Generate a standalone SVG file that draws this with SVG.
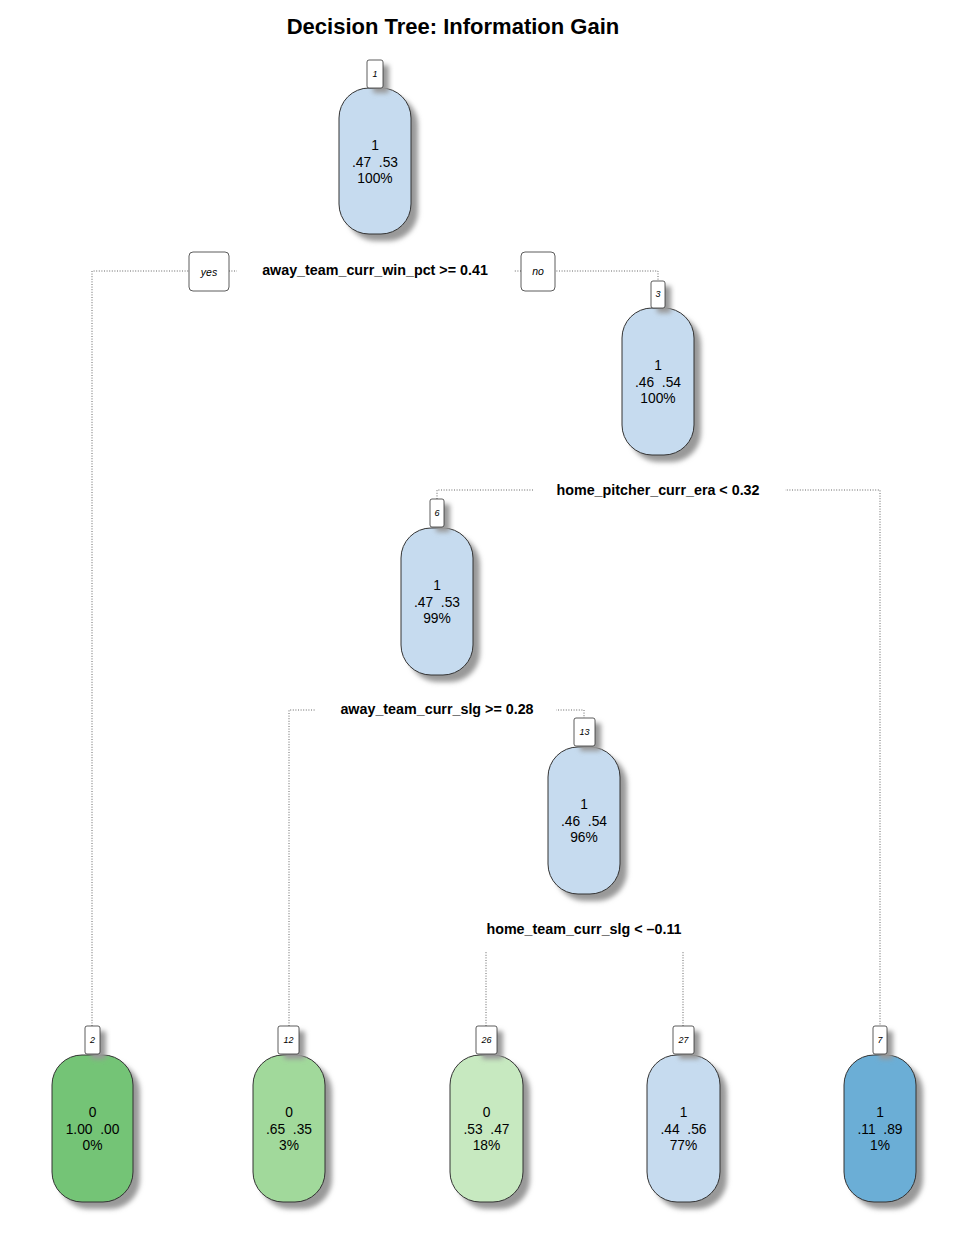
<svg xmlns="http://www.w3.org/2000/svg" width="970" height="1254" viewBox="0 0 970 1254">
<defs>
<filter id="sh" x="-30%" y="-30%" width="160%" height="160%"><feGaussianBlur stdDeviation="2.5"/></filter>
<style>
text{font-family:"Liberation Sans",Arial,sans-serif;text-anchor:middle;fill:#000;white-space:pre}
.t{font-size:22px;font-weight:bold}
.v{font-size:13.8px}
.s{font-size:14.3px;font-weight:bold}
.n{font-size:9px;font-style:italic}
.yn{font-size:10.5px;font-style:italic}
.node{stroke:#333;stroke-width:1}
.shd{fill:#999;filter:url(#sh)}
.lb{fill:#fff;stroke:#333;stroke-width:0.8}
.ln{fill:none;stroke:#555;stroke-width:0.9;stroke-dasharray:1 1.6}
.wb{fill:#fff}
</style>
</defs>
<rect width="970" height="1254" fill="#fff"/>
<text class="t" x="453" y="34">Decision Tree: Information Gain</text>

<g id="connectors">
<path class="ln" d="M92,1026 V271 H658 V281"/>
<path class="ln" d="M437,499 V490 H880 V1026"/>
<path class="ln" d="M289,1026 V710 H584 V718"/>
<path class="ln" d="M486,1026 V952 M683,1026 V952"/>
</g>

<g id="split1">
<rect class="wb" x="237" y="258" width="277" height="26"/>
<text class="s" x="375" y="275">away_team_curr_win_pct &gt;= 0.41</text>
<rect x="189" y="252" width="40" height="39" rx="4" class="lb"/>
<text class="yn" x="209" y="276">yes</text>
<rect x="521" y="252" width="34" height="39" rx="4" class="lb"/>
<text class="yn" x="538" y="275">no</text>
</g>
<g id="split3">
<rect class="wb" x="533" y="478" width="252" height="26"/>
<text class="s" x="658" y="495">home_pitcher_curr_era &lt; 0.32</text>
</g>
<g id="split6">
<rect class="wb" x="316" y="698" width="240" height="26"/>
<text class="s" x="437" y="714">away_team_curr_slg &gt;= 0.28</text>
</g>
<g id="split13">
<text class="s" x="584" y="934">home_team_curr_slg &lt; –0.11</text>
</g>

<g id="node1">
<rect class="shd" x="346" y="95" width="72" height="146" rx="30"/>
<rect class="node" x="339" y="88" width="72" height="146" rx="30" fill="#C6DBEF"/>
<rect class="shd" x="373" y="65" width="16" height="28" rx="2"/>
<rect class="lb" x="367" y="60" width="16" height="28" rx="2"/>
<text class="n" x="375" y="77">1</text>
<text class="v" x="375" y="150">1</text>
<text class="v" x="375" y="167">.47  .53</text>
<text class="v" x="375" y="183">100%</text>
</g>

<g id="node3">
<rect class="shd" x="629" y="315" width="72" height="147" rx="30"/>
<rect class="node" x="622" y="308" width="72" height="147" rx="30" fill="#C6DBEF"/>
<rect class="shd" x="657" y="286" width="14" height="27" rx="2"/>
<rect class="lb" x="651" y="281" width="14" height="27" rx="2"/>
<text class="n" x="658" y="297">3</text>
<text class="v" x="658" y="370">1</text>
<text class="v" x="658" y="387">.46  .54</text>
<text class="v" x="658" y="403">100%</text>
</g>

<g id="node6">
<rect class="shd" x="408" y="535" width="72" height="147" rx="30"/>
<rect class="node" x="401" y="528" width="72" height="147" rx="30" fill="#C6DBEF"/>
<rect class="shd" x="436" y="504" width="14" height="28" rx="2"/>
<rect class="lb" x="430" y="499" width="14" height="28" rx="2"/>
<text class="n" x="437" y="516">6</text>
<text class="v" x="437" y="590">1</text>
<text class="v" x="437" y="607">.47  .53</text>
<text class="v" x="437" y="623">99%</text>
</g>

<g id="node13">
<rect class="shd" x="555" y="754" width="72" height="147" rx="30"/>
<rect class="node" x="548" y="747" width="72" height="147" rx="30" fill="#C6DBEF"/>
<rect class="shd" x="580" y="723" width="21" height="28" rx="2"/>
<rect class="lb" x="574" y="718" width="21" height="28" rx="2"/>
<text class="n" x="584.5" y="735">13</text>
<text class="v" x="584" y="809">1</text>
<text class="v" x="584" y="826">.46  .54</text>
<text class="v" x="584" y="842">96%</text>
</g>

<g id="node2">
<rect class="shd" x="59" y="1062" width="81" height="147" rx="30"/>
<rect class="node" x="52" y="1055" width="81" height="147" rx="30" fill="#74C476"/>
<rect class="shd" x="91" y="1031" width="15" height="28" rx="2"/>
<rect class="lb" x="85" y="1026" width="15" height="28" rx="2"/>
<text class="n" x="92.5" y="1043">2</text>
<text class="v" x="92.5" y="1117">0</text>
<text class="v" x="92.5" y="1134">1.00  .00</text>
<text class="v" x="92.5" y="1150">0%</text>
</g>

<g id="node12">
<rect class="shd" x="260" y="1062" width="72" height="147" rx="30"/>
<rect class="node" x="253" y="1055" width="72" height="147" rx="30" fill="#A1D99B"/>
<rect class="shd" x="284" y="1031" width="21" height="28" rx="2"/>
<rect class="lb" x="278" y="1026" width="21" height="28" rx="2"/>
<text class="n" x="288.5" y="1043">12</text>
<text class="v" x="289" y="1117">0</text>
<text class="v" x="289" y="1134">.65  .35</text>
<text class="v" x="289" y="1150">3%</text>
</g>

<g id="node26">
<rect class="shd" x="457" y="1062" width="73" height="147" rx="30"/>
<rect class="node" x="450" y="1055" width="73" height="147" rx="30" fill="#C7E9C0"/>
<rect class="shd" x="482" y="1031" width="21" height="28" rx="2"/>
<rect class="lb" x="476" y="1026" width="21" height="28" rx="2"/>
<text class="n" x="486.5" y="1043">26</text>
<text class="v" x="486.5" y="1117">0</text>
<text class="v" x="486.5" y="1134">.53  .47</text>
<text class="v" x="486.5" y="1150">18%</text>
</g>

<g id="node27">
<rect class="shd" x="654" y="1062" width="73" height="147" rx="30"/>
<rect class="node" x="647" y="1055" width="73" height="147" rx="30" fill="#C6DBEF"/>
<rect class="shd" x="679" y="1031" width="21" height="28" rx="2"/>
<rect class="lb" x="673" y="1026" width="21" height="28" rx="2"/>
<text class="n" x="683.5" y="1043">27</text>
<text class="v" x="683.5" y="1117">1</text>
<text class="v" x="683.5" y="1134">.44  .56</text>
<text class="v" x="683.5" y="1150">77%</text>
</g>

<g id="node7">
<rect class="shd" x="851" y="1062" width="72" height="147" rx="30"/>
<rect class="node" x="844" y="1055" width="72" height="147" rx="30" fill="#6BAED6"/>
<rect class="shd" x="879" y="1031" width="14" height="28" rx="2"/>
<rect class="lb" x="873" y="1026" width="14" height="28" rx="2"/>
<text class="n" x="880" y="1043">7</text>
<text class="v" x="880" y="1117">1</text>
<text class="v" x="880" y="1134">.11  .89</text>
<text class="v" x="880" y="1150">1%</text>
</g>
</svg>
